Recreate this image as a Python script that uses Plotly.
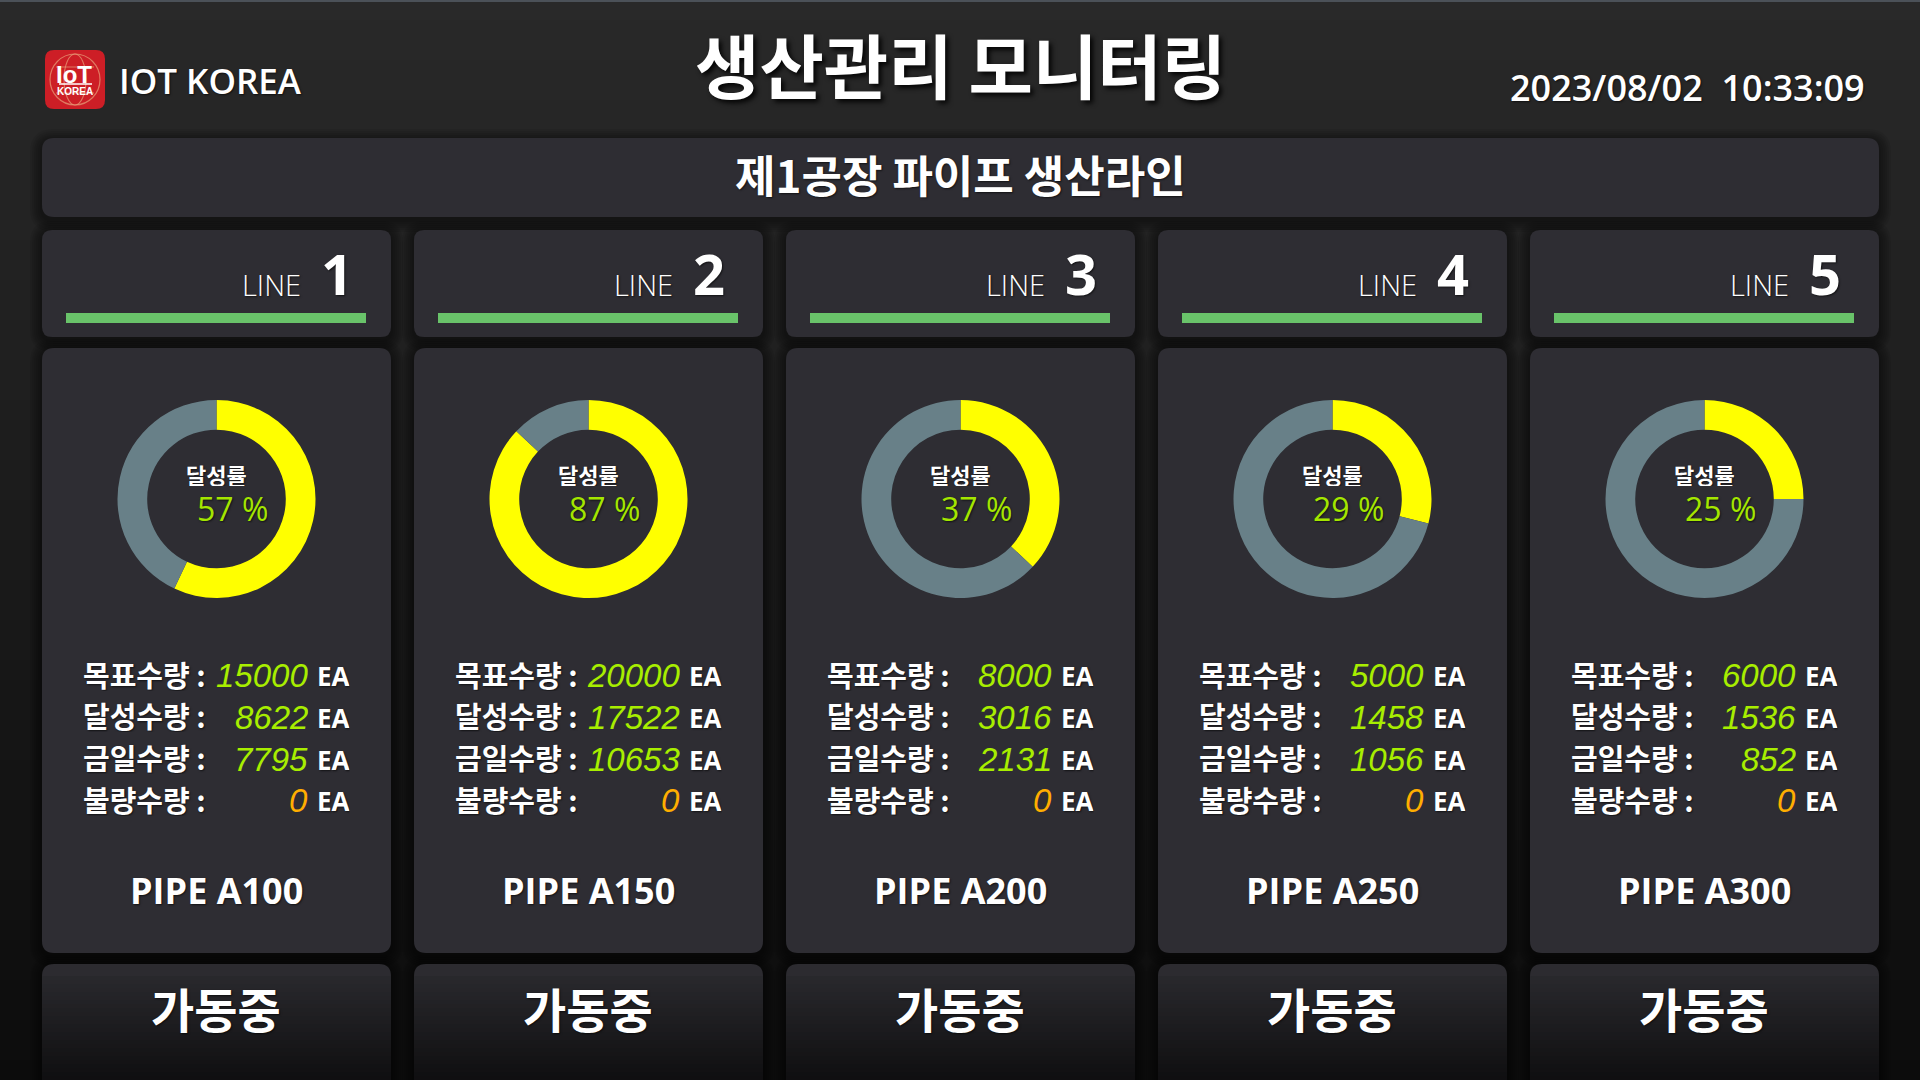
import plotly.graph_objects as go

# ---------------- data ----------------
title_text = "생산관리 모니터링"
company = "IOT KOREA"
timestamp = "2023/08/02\u00a0\u00a010:33:09"
subtitle = "제1공장 파이프 생산라인"
line_numbers = ["1", "2", "3", "4", "5"]
products = ["PIPE A100", "PIPE A150", "PIPE A200", "PIPE A250", "PIPE A300"]
rates = [57, 87, 37, 29, 25]
targets = [15000, 20000, 8000, 5000, 6000]
achieved = [8622, 17522, 3016, 1458, 1536]
today = [7795, 10653, 2131, 1056, 852]
defects = [0, 0, 0, 0, 0]
statuses = ["가동중", "가동중", "가동중", "가동중", "가동중"]
stat_labels = ["목표수량 :", "달성수량 :", "금일수량 :", "불량수량 :"]
rate_label = "달성률"
unit = "EA"

# ---------------- style ----------------
W, H = 1920, 1080
KR = "Noto Sans CJK KR"
LAT = "Open Sans, Noto Sans CJK KR"
SEG = "Liberation Sans Narrow, Liberation Sans, sans-serif"
CARD = "#2e2d33"
YELLOW = "#ffff00"
GRAYRING = "#688088"
BAR = "#69c36a"
DIGIT = "#a8ee00"
PCT = "#a4e600"
ORANGE = "#ffae00"

CX0, CW, PITCH = 42, 349, 372

shapes = []
annotations = []


def rr(x0, y0, x1, y1, r):
    return (f"M {x0+r},{y0} L {x1-r},{y0} Q {x1},{y0} {x1},{y0+r} "
            f"L {x1},{y1-r} Q {x1},{y1} {x1-r},{y1} L {x0+r},{y1} "
            f"Q {x0},{y1} {x0},{y1-r} L {x0},{y0+r} Q {x0},{y0} {x0+r},{y0} Z")


def rect_path(x0, y0, x1, y1, r, color, opacity=1.0):
    shapes.append(dict(type="path", path=rr(x0, y0, x1, y1, r), xref="x", yref="y",
                       fillcolor=color, opacity=opacity, line=dict(width=0), layer="below"))


def shadow(x0, y0, x1, y1, r):
    for k in range(6, 0, -1):
        e = 2 * k
        rect_path(x0 - e, y0 - e + 3, x1 + e, y1 + e + 3, r + e, "black", 0.07)


def mix(c0, c1, t):
    return "rgb(%d,%d,%d)" % tuple(round(a + (b - a) * t) for a, b in zip(c0, c1))


def txt(x, y, s, size, color="white", family=KR, weight="normal", xanchor="center",
        yanchor="middle", style="normal", shadow_css="1px 1px 2px rgba(0,0,0,0.6)", height=None):
    ann = dict(x=x, y=y, xref="x", yref="y", text=s, showarrow=False,
               xanchor=xanchor, yanchor=yanchor,
               font=dict(family=family, size=size, color=color, weight=weight,
                         style=style, shadow=shadow_css))
    if height:
        ann["height"] = height
    annotations.append(ann)


# background gradient
bg_top, bg_bot = (41, 41, 41), (12, 12, 12)
step = 20
for y in range(0, H, step):
    t = (y + step / 2) / H
    shapes.append(dict(type="rect", xref="x", yref="y", x0=0, x1=W, y0=y, y1=y + step + 1,
                       fillcolor=mix(bg_top, bg_bot, t), line=dict(width=0), layer="below"))
shapes.append(dict(type="rect", xref="x", yref="y", x0=0, x1=W, y0=0, y1=2,
                   fillcolor="#4b5158", line=dict(width=0), layer="below"))

# logo
rect_path(45, 50, 105, 109, 9, "#cd1e26")
shapes.append(dict(type="circle", xref="x", yref="y", x0=50, x1=100, y0=54, y1=105,
                   line=dict(color="#e9a07a", width=1.2), layer="below", opacity=0.7))
shapes.append(dict(type="circle", xref="x", yref="y", x0=64, x1=86, y0=54, y1=105,
                   line=dict(color="#e9a07a", width=1.1), layer="below", opacity=0.7))
for yy, half in [(67, 19), (93, 19)]:
    shapes.append(dict(type="line", xref="x", yref="y", x0=75 - half, x1=75 + half, y0=yy, y1=yy,
                       line=dict(color="#e9a07a", width=1.1), layer="below", opacity=0.7))
shapes.append(dict(type="line", xref="x", yref="y", x0=59, x1=92, y0=84, y1=84,
                   line=dict(color="white", width=1.5), layer="below"))
txt(74, 74, "IoT", 24, family=SEG, weight="bold", shadow_css="none", height=22)
txt(75, 91, "KOREA", 10, family=SEG, weight="bold", shadow_css="none", height=11)

# header texts
txt(117, 80, company, 35, family=LAT, weight=600, xanchor="left")
txt(960, 63, title_text, 70, weight="bold", shadow_css="3px 3px 5px rgba(0,0,0,0.9)")
txt(1867, 87, timestamp, 36, family=LAT, weight=600, xanchor="right")

# subtitle panel
shadow(42, 138, 1879, 217, 12)
rect_path(42, 138, 1879, 217, 12, CARD)
txt(960, 174, subtitle, 44, weight="bold")

pies = []
for i in range(5):
    x0 = CX0 + i * PITCH
    x1 = x0 + CW
    cx = x0 + CW / 2

    # header card
    shadow(x0, 230, x1, 337, 10)
    rect_path(x0, 230, x1, 337, 10, CARD)
    shapes.append(dict(type="rect", xref="x", yref="y", x0=x0 + 24, x1=x0 + 324, y0=313, y1=323,
                       fillcolor=BAR, line=dict(width=0), layer="below"))
    txt(x0 + 261, 284, "LINE", 29, family=LAT, weight=300, xanchor="right")
    txt(x0 + 277, 273, line_numbers[i], 56, family=LAT, weight="bold", xanchor="left")

    # main card
    shadow(x0, 348, x1, 953, 12)
    rect_path(x0, 348, x1, 953, 12, CARD)

    # donut
    cy, r = 499, 99
    pies.append(go.Pie(values=[rates[i], 100 - rates[i]], labels=["달성", "미달성"],
                       marker=dict(colors=[YELLOW, GRAYRING], line=dict(width=0)),
                       hole=0.70, sort=False, direction="clockwise", rotation=0,
                       textinfo="none", hoverinfo="skip", showlegend=False,
                       domain=dict(x=[(cx - r) / W, (cx + r) / W],
                                   y=[1 - (cy + r) / H, 1 - (cy - r) / H])))
    txt(cx, 473, rate_label, 22, weight="bold", height=25)
    txt(cx + 16, 508, f"{rates[i]} %", 32, color=PCT, family=LAT, weight=500, height=30)

    # stats
    vals = [targets[i], achieved[i], today[i], defects[i]]
    for j, (lab, v) in enumerate(zip(stat_labels, vals)):
        yy = 674.5 + 41.75 * j
        txt(x0 + 39, yy - 1, lab, 29, weight="bold", xanchor="left", height=34)
        col = ORANGE if j == 3 else DIGIT
        txt(x0 + 268, yy + 0.5, str(v), 33, color=col, family=SEG, style="italic",
            xanchor="right", shadow_css="none", height=34)
        txt(x0 + 273, yy + 1.5, unit, 26, family=LAT, weight="bold", xanchor="left", height=30)

    txt(cx, 890, products[i], 36, family=LAT, weight="bold")

    # status card with vertical gradient
    top_c, bot_c = (44, 43, 48), (15, 15, 16)
    shadow(x0, 964, x1, 1100, 12)
    rect_path(x0, 964, x1, 1100, 12, mix(top_c, bot_c, 0))
    sy = 976
    while sy < H:
        t = (sy + 2 - 964) / (H - 964)
        shapes.append(dict(type="rect", xref="x", yref="y", x0=x0, x1=x1, y0=sy, y1=sy + 5,
                           fillcolor=mix(top_c, bot_c, t), line=dict(width=0), layer="below"))
        sy += 4
    txt(cx - 1, 1007, statuses[i], 47, weight="bold")

fig = go.Figure(pies)
fig.update_layout(
    width=W, height=H, margin=dict(l=0, r=0, t=0, b=0),
    paper_bgcolor="#0c0c0c", plot_bgcolor="rgba(0,0,0,0)",
    xaxis=dict(range=[0, W], visible=False, fixedrange=True),
    yaxis=dict(range=[H, 0], visible=False, fixedrange=True),
    shapes=shapes, annotations=annotations, showlegend=False,
)
fig.write_html("out.html", config=dict(displayModeBar=False, staticPlot=True),
               post_script="document.body.style.margin='0';document.body.style.overflow='hidden';")
